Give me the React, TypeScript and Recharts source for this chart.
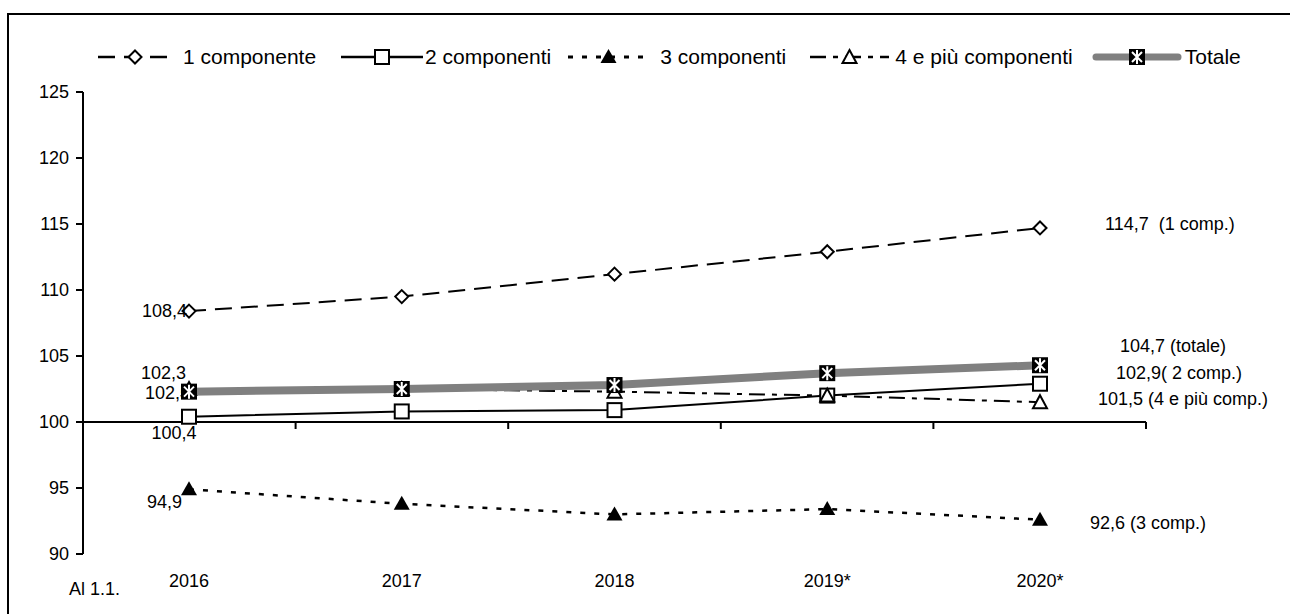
import React from "react";
import { Legend, Line, LineChart, ReferenceLine, XAxis, YAxis } from "recharts";

// Al 1.1. – indici per numero di componenti
const years = ["2016", "2017", "2018", "2019*", "2020*"];
const oneMember = [108.4, 109.5, 111.2, 112.9, 114.7];
const twoMembers = [100.4, 100.8, 100.9, 102.0, 102.9];
const threeMembers = [94.9, 93.8, 93.0, 93.4, 92.6];
const fourPlus = [102.5, 102.5, 102.3, 102.0, 101.5];
const total = [102.3, 102.5, 102.8, 103.7, 104.3];
const yTicks = [90, 95, 100, 105, 110, 115, 120, 125];
const seriesNames = ["1 componente", "2 componenti", "3 componenti", "4 e più componenti", "Totale"];
const startLabels = ["108,4", "100,4", "94,9", "102,5", "102,3"];
const endLabels = ["114,7  (1 comp.)", "102,9( 2 comp.)", "92,6 (3 comp.)", "101,5 (4 e più comp.)", "104,7 (totale)"];

const FONT = "'Liberation Sans', Arial, sans-serif";
const GRAY = "#808080";

const data = years.map((year, i) => ({
  year,
  one: oneMember[i],
  two: twoMembers[i],
  three: threeMembers[i],
  four: fourPlus[i],
  total: total[i],
}));

type Kind = "diamond" | "square" | "triangle" | "triangleOpen" | "star";

const SERIES: {
  key: string;
  stroke: string;
  width: number;
  dash?: string;
  kind: Kind;
  start: { dx: number; dy: number; anchor: "start" | "middle" | "end" };
  end: { dx: number; dy: number };
  legend: { icon: number; gap: number; after: number };
}[] = [
  { key: "one", stroke: "#000", width: 2, dash: "17 9", kind: "diamond", start: { dx: -2, dy: 0, anchor: "end" }, end: { dx: 65, dy: -4 }, legend: { icon: 74, gap: 11, after: 25 } },
  { key: "two", stroke: "#000", width: 2, kind: "square", start: { dx: -15, dy: 16, anchor: "middle" }, end: { dx: 76, dy: -11 }, legend: { icon: 82, gap: 2, after: 17 } },
  { key: "three", stroke: "#000", width: 2.5, dash: "5 9", kind: "triangle", start: { dx: -7, dy: 13, anchor: "end" }, end: { dx: 50, dy: 3 }, legend: { icon: 81, gap: 11, after: 24 } },
  { key: "four", stroke: "#000", width: 2, dash: "16 7 5 7", kind: "triangleOpen", start: { dx: 1, dy: 4, anchor: "end" }, end: { dx: 58, dy: -3 }, legend: { icon: 79, gap: 6, after: 19 } },
  { key: "total", stroke: GRAY, width: 8, kind: "star", start: { dx: -3, dy: -19, anchor: "end" }, end: { dx: 80, dy: -19 }, legend: { icon: 90, gap: 3, after: 0 } },
];

function Marker({ kind, cx, cy }: { kind: Kind; cx: number; cy: number }) {
  switch (kind) {
    case "diamond":
      return (
        <path
          d={`M${cx} ${cy - 6.5}L${cx + 6.5} ${cy}L${cx} ${cy + 6.5}L${cx - 6.5} ${cy}Z`}
          fill="#fff"
          stroke="#000"
          strokeWidth={2}
        />
      );
    case "square":
      return <rect x={cx - 7} y={cy - 7} width={14} height={14} fill="#fff" stroke="#000" strokeWidth={2} />;
    case "triangle":
      return <path d={`M${cx} ${cy - 8}L${cx + 8} ${cy + 6}L${cx - 8} ${cy + 6}Z`} fill="#000" />;
    case "triangleOpen":
      return (
        <path
          d={`M${cx} ${cy - 7}L${cx + 7} ${cy + 6}L${cx - 7} ${cy + 6}Z`}
          fill="#fff"
          stroke="#000"
          strokeWidth={2}
        />
      );
    default:
      return (
        <g>
          <rect x={cx - 8} y={cy - 8} width={16} height={16} fill="#000" />
          <path
            d={`M${cx - 5} ${cy - 5}L${cx + 5} ${cy + 5}M${cx + 5} ${cy - 5}L${cx - 5} ${cy + 5}M${cx} ${cy - 7}L${cx} ${cy + 7}`}
            stroke="#fff"
            strokeWidth={2}
          />
        </g>
      );
  }
}

function makeDot(s: (typeof SERIES)[number], idx: number) {
  return (props: any) => {
    const { cx, cy, index } = props;
    if (cx == null || cy == null) return <g key={`${s.key}-${index}`} />;
    const last = index === years.length - 1;
    return (
      <g key={`${s.key}-${index}`}>
        <Marker kind={s.kind} cx={cx} cy={cy} />
        {index === 0 && (
          <text
            x={cx + s.start.dx}
            y={cy + s.start.dy}
            textAnchor={s.start.anchor}
            dominantBaseline="central"
            fontSize={18}
            fontFamily={FONT}
            fill="#000"
          >
            {startLabels[idx]}
          </text>
        )}
        {last && (
          <text
            x={cx + s.end.dx}
            y={cy + s.end.dy}
            dominantBaseline="central"
            fontSize={18}
            fontFamily={FONT}
            fill="#000"
            style={{ whiteSpace: "pre" }}
          >
            {endLabels[idx]}
          </text>
        )}
      </g>
    );
  };
}

function LegendIcon({ s }: { s: (typeof SERIES)[number] }) {
  const w = s.legend.icon;
  const star = s.kind === "star";
  return (
    <svg width={w} height={22} style={{ display: "block" }}>
      <line
        x1={star ? 4 : 0}
        y1={11}
        x2={star ? w - 4 : w}
        y2={11}
        stroke={s.stroke}
        strokeWidth={star ? 7 : s.width + 0.5}
        strokeDasharray={s.dash}
        strokeLinecap={star ? "round" : "butt"}
      />
      <Marker kind={s.kind} cx={w / 2} cy={11} />
    </svg>
  );
}

function LegendContent() {
  return (
    <div style={{ display: "flex", alignItems: "center", fontFamily: FONT, fontSize: 21, whiteSpace: "nowrap" }}>
      {SERIES.map((s, i) => (
        <div key={s.key} style={{ display: "flex", alignItems: "center", marginRight: s.legend.after }}>
          <LegendIcon s={s} />
          <span style={{ marginLeft: s.legend.gap }}>{seriesNames[i]}</span>
        </div>
      ))}
    </div>
  );
}

function ZeroAxis(props: any) {
  const { x1, y1, x2 } = props;
  const step = (x2 - x1) / years.length;
  return (
    <g>
      <line x1={x1} y1={y1} x2={x2} y2={y1} stroke="#000" strokeWidth={2} />
      {years.map((_, k) => (
        <line key={k} x1={x1 + step * (k + 1)} y1={y1} x2={x1 + step * (k + 1)} y2={y1 + 7} stroke="#000" strokeWidth={2} />
      ))}
    </g>
  );
}

export default function App() {
  return (
    <div style={{ position: "absolute", left: 0, top: 0, width: 1290, height: 614, overflow: "hidden", background: "#fff", fontFamily: FONT }}>
      <div
        style={{
          position: "absolute",
          left: 7,
          top: 13,
          width: 1300,
          height: 620,
          borderTop: "2px solid #000",
          borderLeft: "2px solid #000",
        }}
      />
      <div style={{ position: "absolute", left: 0, top: 0 }}>
        <LineChart width={1290} height={614} data={data} margin={{ top: 92, right: 144, bottom: 30, left: 23 }}>
          <XAxis
            dataKey="year"
            axisLine={false}
            tickLine={false}
            tickMargin={14}
            height={30}
            padding={{ left: 106, right: 106 }}
            tick={{ fill: "#000", fontSize: 18, fontFamily: FONT }}
            interval={0}
          />
          <YAxis
            domain={[90, 125]}
            ticks={yTicks}
            width={60}
            axisLine={{ stroke: "#000", strokeWidth: 2 }}
            tickLine={{ stroke: "#000", strokeWidth: 2 }}
            tickSize={7}
            tickMargin={7}
            tick={{ fill: "#000", fontSize: 18, fontFamily: FONT }}
          />
          <ReferenceLine y={100} shape={ZeroAxis} ifOverflow="visible" />
          <Legend
            layout="horizontal"
            verticalAlign="middle"
            align="center"
            wrapperStyle={{ top: 45, left: 98, width: 1190, height: 26 }}
            content={LegendContent}
          />
          {SERIES.map((s, i) => (
            <Line
              key={s.key}
              dataKey={s.key}
              name={seriesNames[i]}
              stroke={s.stroke}
              strokeWidth={s.width}
              strokeDasharray={s.dash}
              dot={makeDot(s, i)}
              activeDot={false}
              isAnimationActive={false}
            />
          ))}
        </LineChart>
      </div>
      <div style={{ position: "absolute", left: 69, top: 579, fontSize: 18, lineHeight: "20px" }}>Al 1.1.</div>
    </div>
  );
}
